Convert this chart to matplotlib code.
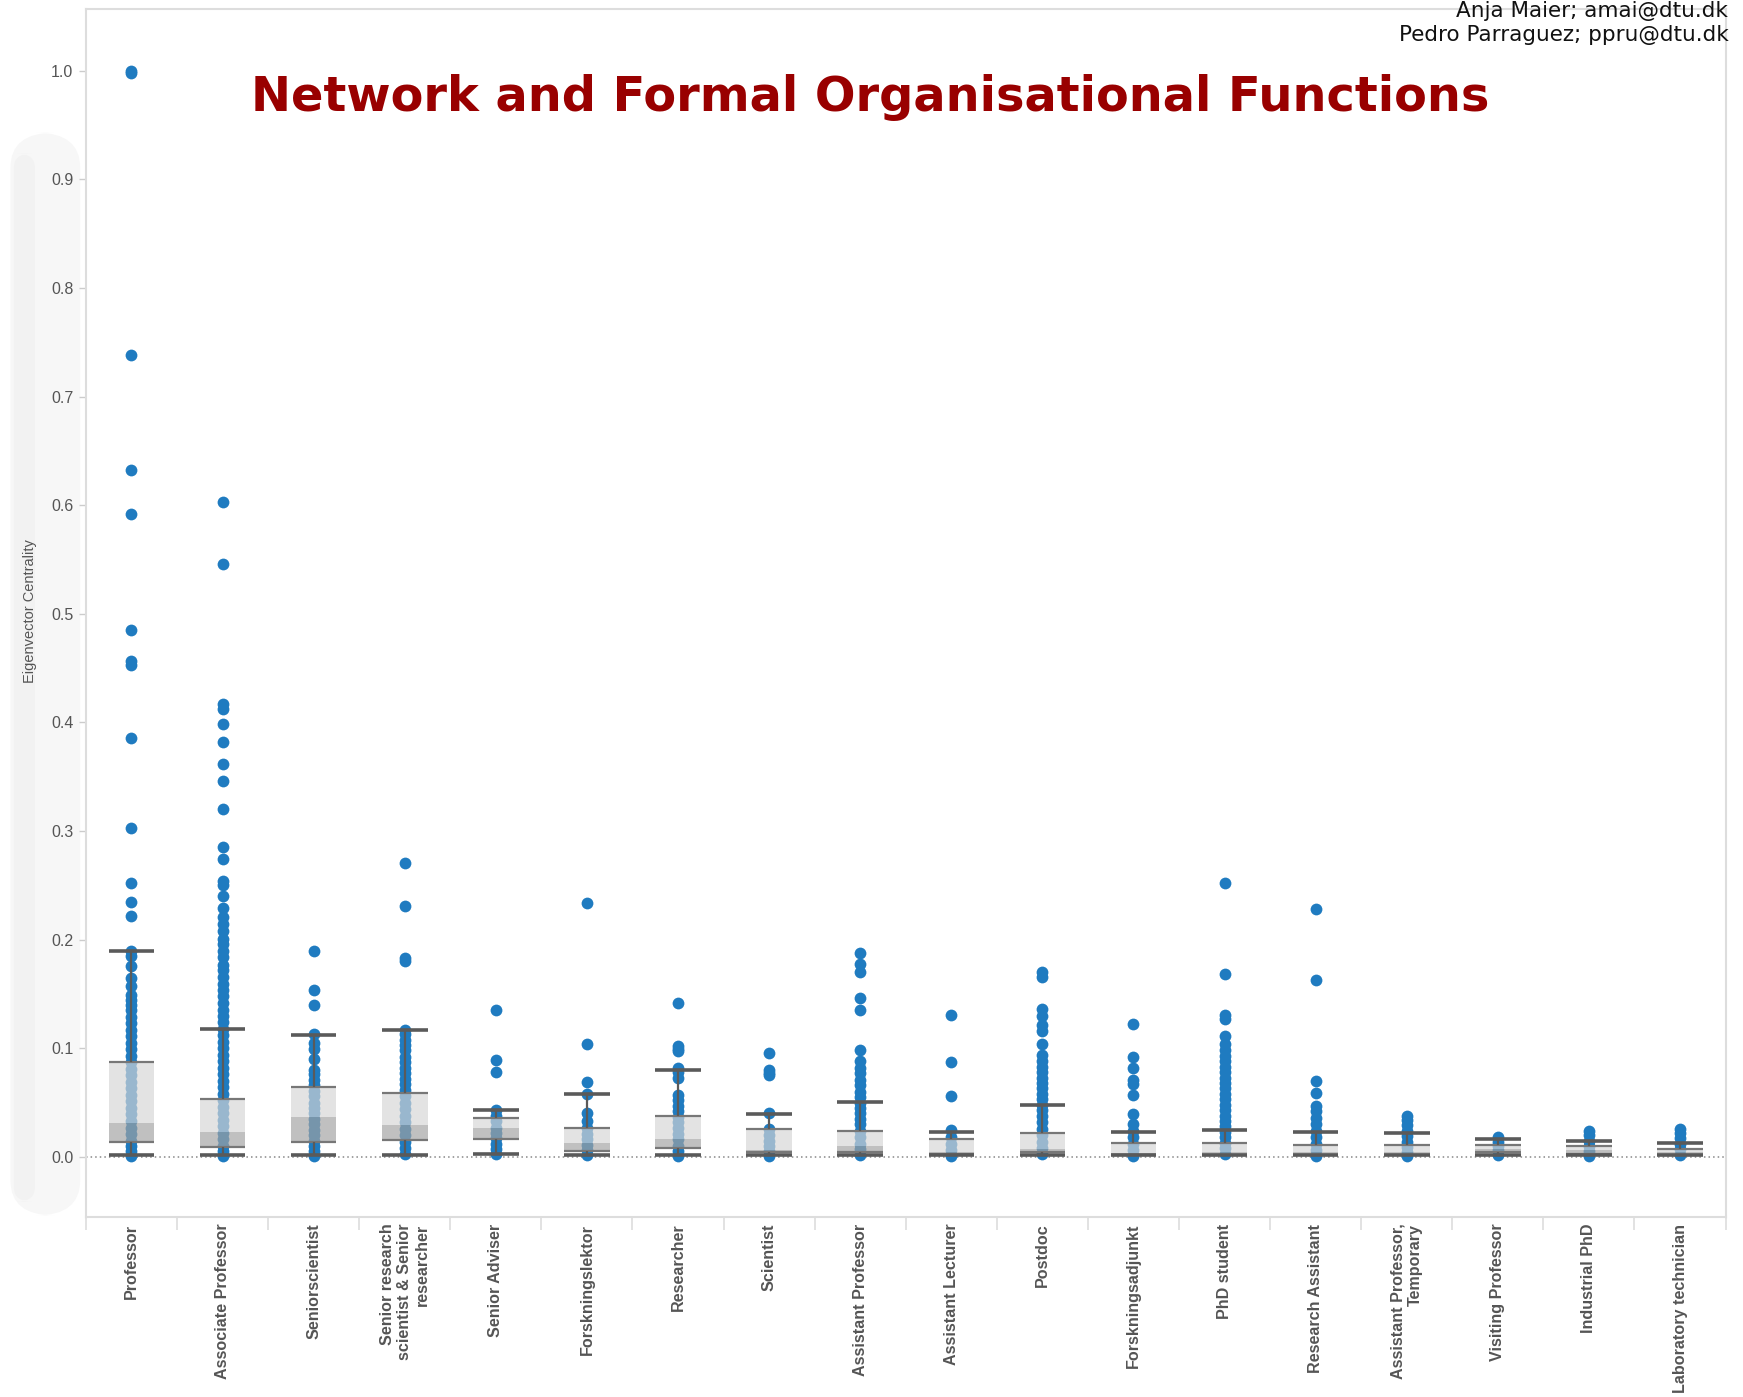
import matplotlib
matplotlib.use("Agg")
import matplotlib.pyplot as plt
from matplotlib.patches import Rectangle, FancyBboxPatch

# job title groups (x axis)
categories = ["Professor", "Associate Professor", "Seniorscientist",
              "Senior research\nscientist & Senior\nresearcher", "Senior Adviser",
              "Forskningslektor", "Researcher", "Scientist", "Assistant Professor",
              "Assistant Lecturer", "Postdoc", "Forskningsadjunkt", "PhD student",
              "Research Assistant", "Assistant Professor,\nTemporary",
              "Visiting Professor", "Industrial PhD", "Laboratory technician"]

# eigenvector centrality of each person
professor = [1.0, 0.998, 0.738, 0.632, 0.592, 0.485, 0.457, 0.453, 0.386, 0.303, 0.252,
             0.235, 0.222, 0.190, 0.185, 0.176, 0.165, 0.157, 0.149, 0.144, 0.140, 0.135,
             0.129, 0.123, 0.117, 0.111, 0.105, 0.099, 0.093, 0.087, 0.081, 0.075, 0.069,
             0.063, 0.057, 0.051, 0.045, 0.039, 0.033, 0.027, 0.021, 0.015, 0.010, 0.005, 0.001]
assoc_prof = [0.603, 0.546, 0.417, 0.412, 0.399, 0.382, 0.362, 0.346, 0.320, 0.285, 0.274,
              0.254, 0.250, 0.240, 0.229, 0.221, 0.214, 0.208, 0.201, 0.196, 0.190, 0.184,
              0.177, 0.172, 0.166, 0.159, 0.154, 0.148, 0.142, 0.135, 0.130, 0.124, 0.118,
              0.112, 0.106, 0.100, 0.094, 0.088, 0.082, 0.076, 0.070, 0.064, 0.058, 0.052,
              0.046, 0.040, 0.034, 0.028, 0.022, 0.016, 0.010, 0.005, 0.001]
seniorscientist = [0.190, 0.154, 0.140, 0.113, 0.105, 0.099, 0.090, 0.080, 0.076, 0.071,
                   0.066, 0.061, 0.056, 0.050, 0.045, 0.040, 0.035, 0.030, 0.025, 0.020,
                   0.015, 0.010, 0.005, 0.001]
senior_research = [0.271, 0.231, 0.183, 0.180, 0.117, 0.113, 0.108, 0.103, 0.098, 0.092,
                   0.087, 0.082, 0.077, 0.072, 0.067, 0.062, 0.056, 0.050, 0.044, 0.038,
                   0.032, 0.026, 0.020, 0.014, 0.008, 0.003]
senior_adviser = [0.135, 0.089, 0.078, 0.043, 0.038, 0.033, 0.027, 0.022, 0.017, 0.012,
                  0.007, 0.003]
forskningslektor = [0.234, 0.104, 0.069, 0.058, 0.040, 0.033, 0.027, 0.021, 0.016, 0.011,
                    0.006, 0.002]
researcher = [0.142, 0.102, 0.099, 0.097, 0.082, 0.078, 0.073, 0.057, 0.052, 0.047, 0.042,
              0.037, 0.032, 0.027, 0.021, 0.016, 0.010, 0.005, 0.001]
scientist = [0.096, 0.080, 0.077, 0.075, 0.040, 0.026, 0.020, 0.015, 0.010, 0.005, 0.001]
assist_prof = [0.188, 0.178, 0.170, 0.146, 0.135, 0.098, 0.088, 0.082, 0.077, 0.071, 0.066,
               0.060, 0.055, 0.050, 0.045, 0.040, 0.035, 0.030, 0.024, 0.018, 0.012, 0.007,
               0.002]
assist_lecturer = [0.131, 0.087, 0.056, 0.025, 0.018, 0.012, 0.006, 0.001]
postdoc = [0.170, 0.166, 0.136, 0.130, 0.121, 0.116, 0.104, 0.094, 0.088, 0.083, 0.078,
           0.073, 0.068, 0.063, 0.058, 0.053, 0.048, 0.043, 0.038, 0.032, 0.026, 0.020,
           0.014, 0.008, 0.003]
forskningsadjunkt = [0.122, 0.092, 0.082, 0.071, 0.067, 0.057, 0.039, 0.030, 0.024, 0.018,
                     0.012, 0.006, 0.001]
phd_student = [0.252, 0.168, 0.131, 0.127, 0.111, 0.104, 0.098, 0.093, 0.088, 0.083, 0.078,
               0.073, 0.068, 0.063, 0.058, 0.053, 0.048, 0.043, 0.038, 0.033, 0.028, 0.023,
               0.018, 0.013, 0.008, 0.003]
research_assist = [0.228, 0.163, 0.070, 0.059, 0.047, 0.042, 0.036, 0.030, 0.024, 0.018,
                   0.012, 0.006, 0.001]
assist_prof_temp = [0.038, 0.034, 0.029, 0.024, 0.019, 0.014, 0.009, 0.004, 0.001]
visiting_prof = [0.018, 0.014, 0.010, 0.006, 0.002]
industrial_phd = [0.024, 0.020, 0.015, 0.010, 0.005, 0.001]
lab_technician = [0.026, 0.022, 0.017, 0.012, 0.007, 0.002]

points = [professor, assoc_prof, seniorscientist, senior_research, senior_adviser,
          forskningslektor, researcher, scientist, assist_prof, assist_lecturer, postdoc,
          forskningsadjunkt, phd_student, research_assist, assist_prof_temp, visiting_prof,
          industrial_phd, lab_technician]

# box plot stats
whisk_lo = [0.0015, 0.0015, 0.0015, 0.0015, 0.003, 0.002, 0.0015, 0.0015, 0.002, 0.0015,
            0.0015, 0.0015, 0.0015, 0.0015, 0.0015, 0.0015, 0.0015, 0.0015]
q1 = [0.0138, 0.0095, 0.0138, 0.0154, 0.0166, 0.005, 0.0083, 0.0045, 0.004, 0.003, 0.0046,
      0.002, 0.002, 0.002, 0.002, 0.004, 0.003, 0.002]
median = [0.0314, 0.0228, 0.0366, 0.0295, 0.0265, 0.013, 0.016, 0.006, 0.0098, 0.0045,
          0.0074, 0.0035, 0.0045, 0.004, 0.004, 0.007, 0.006, 0.004]
q3 = [0.0877, 0.053, 0.064, 0.059, 0.036, 0.0265, 0.0375, 0.0252, 0.0237, 0.0166, 0.022,
      0.0123, 0.0123, 0.011, 0.011, 0.011, 0.010, 0.0068]
whisk_hi = [0.190, 0.118, 0.112, 0.117, 0.0428, 0.058, 0.080, 0.0397, 0.0508, 0.023, 0.048,
            0.0228, 0.0243, 0.023, 0.0215, 0.0166, 0.015, 0.013]

yticks = [0.0, 0.1, 0.2, 0.3, 0.4, 0.5, 0.6, 0.7, 0.8, 0.9, 1.0]

fig = plt.figure(figsize=(17.43, 13.97), dpi=100)

# faint shadow band on the left edge, behind everything
fig.patches.append(FancyBboxPatch((0.006, 0.13), 0.04, 0.775, boxstyle="round,pad=0,rounding_size=0.025",
                                  transform=fig.transFigure, facecolor="#f7f7f7", edgecolor="none", zorder=-2))
fig.patches.append(FancyBboxPatch((0.008, 0.14), 0.012, 0.75, boxstyle="round,pad=0,rounding_size=0.01",
                                  transform=fig.transFigure, facecolor="#f2f2f2", edgecolor="none", zorder=-1))

ax = fig.add_axes([0.0493, 0.129, 0.9407, 0.8646])
ax.set_facecolor("white")

blue = "#1f7bc0"
bw = 0.5
for i, vals in enumerate(points):
    ax.scatter([i] * len(vals), vals, s=72, color=blue, linewidths=0, zorder=2)
    # two-tone box, translucent so the dots show through faded
    ax.add_patch(Rectangle((i - bw / 2, q1[i]), bw, median[i] - q1[i], facecolor="#a2a2a2",
                           edgecolor="none", alpha=0.67, zorder=3))
    ax.add_patch(Rectangle((i - bw / 2, median[i]), bw, q3[i] - median[i], facecolor="#d6d6d6",
                           edgecolor="none", alpha=0.67, zorder=3))
    ax.hlines([q1[i], q3[i]], i - bw / 2, i + bw / 2, color="#777777", lw=1.6, zorder=4)
    ax.vlines(i, q3[i], whisk_hi[i], color="#5a5a5a", lw=1.6, zorder=4)
    ax.vlines(i, whisk_lo[i], q1[i], color="#5a5a5a", lw=1.6, zorder=4)
    ax.hlines([whisk_lo[i], whisk_hi[i]], i - bw / 2, i + bw / 2, color="#5a5a5a", lw=2.6, zorder=4)

ax.axhline(0, color="#888888", ls=(0, (1, 2)), lw=1.1, zorder=1)

ax.set_xlim(-0.5, len(categories) - 0.5)
ax.set_ylim(-0.0552, 1.057)

ax.set_yticks(yticks)
ax.set_yticklabels(["%.1f" % t for t in yticks], fontsize=11.5, color="#555555", family="Liberation Sans")
ax.tick_params(axis="y", length=5, color="#cccccc", width=1, pad=4)

ax.set_xticks(range(len(categories)))
ax.set_xticklabels(categories, rotation=90, fontsize=11.6, fontweight="bold", color="#555555",
                   family="Liberation Sans", va="top", ha="center", multialignment="right")
ax.tick_params(axis="x", length=0, pad=5)
ax.set_xticks([i - 0.5 for i in range(len(categories) + 1)], minor=True)
ax.tick_params(axis="x", which="minor", length=9, color="#dddddd", width=1.2)

for s in ax.spines.values():
    s.set_color("#dddddd")
    s.set_linewidth(1.5)

fig.text(0.017, 0.5625, "Eigenvector Centrality", rotation=90, ha="center", va="center",
         fontsize=10.5, color="#555555", family="Liberation Sans")

fig.text(0.499, 0.930, "Network and Formal Organisational Functions", ha="center", va="center",
         fontsize=34.5, fontweight="bold", color="#990000", family="DejaVu Sans")

fig.text(0.9916, 0.999, "Anja Maier; amai@dtu.dk\nPedro Parraguez; ppru@dtu.dk", ha="right", va="top",
         fontsize=15.5, color="#111111", family="DejaVu Sans", linespacing=1.2)

fig.savefig("out.png", dpi=100, facecolor="white")
